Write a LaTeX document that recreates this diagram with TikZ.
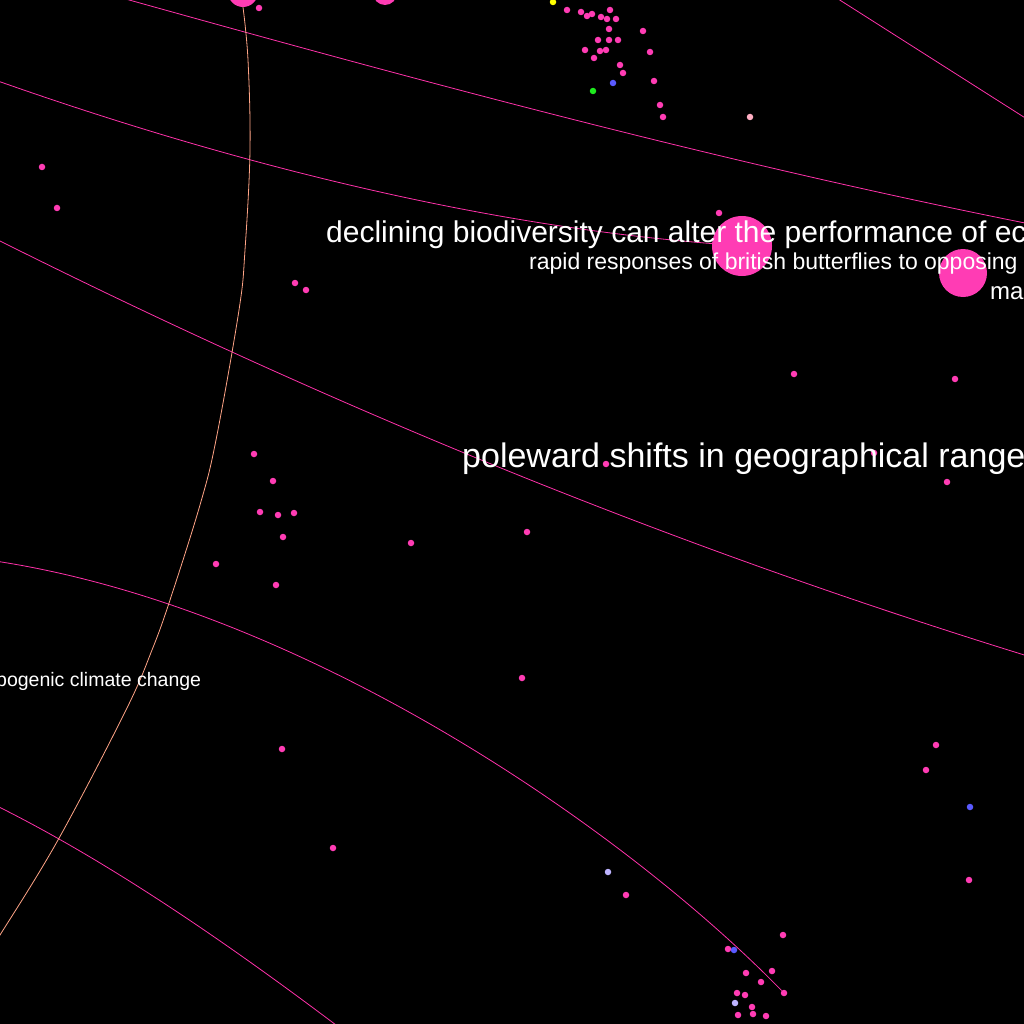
\documentclass[tikz,border=0pt]{standalone}
\usepackage{fontspec}
\setmainfont{Liberation Sans}
\usetikzlibrary{positioning}
\definecolor{nodepink}{RGB}{255,60,180}
\definecolor{edgepink}{RGB}{255,50,170}
\definecolor{edgesalmon}{RGB}{255,165,135}
\definecolor{dotblue}{RGB}{90,90,255}
\definecolor{dotlilac}{RGB}{190,180,255}
\definecolor{dotgreen}{RGB}{30,235,30}
\definecolor{dotyellow}{RGB}{255,255,0}
\definecolor{dotrose}{RGB}{255,175,195}

\begin{document}
\begin{tikzpicture}[x=1pt,y=-1pt,
    smalldot/.style={circle,fill=#1,inner sep=0pt,minimum size=6.5pt},
    smalldot/.default=nodepink,
    hub/.style={circle,fill=nodepink,inner sep=0pt,minimum size=#1},
    link/.style={draw=edgepink,line width=0.8pt},
    nodetext/.style={text=white,inner sep=0pt,anchor=base west,font=\fontsize{#1}{#1}\selectfont}]
    \useasboundingbox (0,0) rectangle (1024,1024);
    \fill[black] (0,0) rectangle (1024,1024);
    \clip (0,0) rectangle (1024,1024);

    \node[hub=30pt] (topleft) at (243,-8) {};
    \node[hub=24pt] (topmid) at (385,-7) {};
    \node[hub=60pt] (declining) at (742,246) {};
    \node[hub=48pt] (rapid) at (963,273) {};

    \foreach \x/\y [count=\i] in {259/8,567/10,581/12,587/16,592/14,601/17,607/19,610/10,616/19,609/29,
        598/40,609/40,618/40,585/50,600/51,606/50,594/58,620/65,623/73,643/31,650/52,654/81,660/105,663/117,
        42/167,57/208,295/283,306/290,719/213,794/374,955/379,
        254/454,273/481,260/512,278/515,294/513,283/537,216/564,276/585,411/543,527/532,606/464,874/453,947/482,
        522/678,282/749,333/848,936/745,926/770,969/880,626/895,
        783/935,728/949,746/973,772/971,761/982,737/993,745/995,752/1007,738/1015,753/1014,766/1016}
        \node[smalldot] (p\i) at (\x,\y) {};
    \node[smalldot] (sink) at (784,993) {};
    \node[smalldot=dotblue] (b1) at (613,83) {};
    \node[smalldot=dotblue] (b2) at (734,950) {};
    \node[smalldot=dotblue] (b3) at (970,807) {};
    \node[smalldot=dotlilac] (l1) at (608,872) {};
    \node[smalldot=dotlilac] (l2) at (735,1003) {};
    \node[smalldot=dotgreen] (g1) at (593,91) {};
    \node[smalldot=dotyellow] (y1) at (553,2) {};
    \node[smalldot=dotrose] (r1) at (750,117) {};

    \coordinate (e1a) at (122,-2);
    \coordinate (e1b) at (1030,224);
    \coordinate (e2a) at (835,-3);
    \coordinate (e2b) at (1030,121);
    \coordinate (e3a) at (-10,236);
    \coordinate (e3b) at (1034,658);
    \coordinate (e4a) at (-5,561);
    \coordinate (e5a) at (-5,805);
    \coordinate (e5b) at (340,1028);
    \coordinate (e6a) at (-5,80);

    \draw[link] (e1a) .. controls (430,84) and (724,163) .. (e1b);
    \draw[link] (e2a) -- (e2b);
    \draw[link] (e6a) .. controls (250,170) and (492,226) .. (declining);
    \draw[link] (e3a) .. controls (341,412) and (683,550) .. (e3b);
    \draw[link] (e4a) .. controls (300,607) and (620,825) .. (sink);
    \draw[link] (e5a) .. controls (110,862) and (230,945) .. (e5b);
    \draw[draw=edgesalmon,line width=0.8pt] plot[smooth,tension=0.6] coordinates
        {(topleft.south) (248,60) (250,150) (245,250) (239,310) (216,440) (200,505) (170,600)
         (152,650) (126,710) (58,840) (0,935) (-20,965)};

    \node[nodetext=30] (declinetext) at (326,242) {declining biodiversity can alter the performance of ec};
    \node[nodetext=23] (rapidtext) at (529,269) {rapid responses of british butterflies to opposing};
    \node[nodetext=24] (matext) at (990,299) {ma};
    \node[nodetext=34] (polewardtext) at (462,467) {poleward shifts in geographical range};
    \node[nodetext=19.5] (climatetext) at (-4,686) {pogenic climate change};
\end{tikzpicture}
\end{document}
